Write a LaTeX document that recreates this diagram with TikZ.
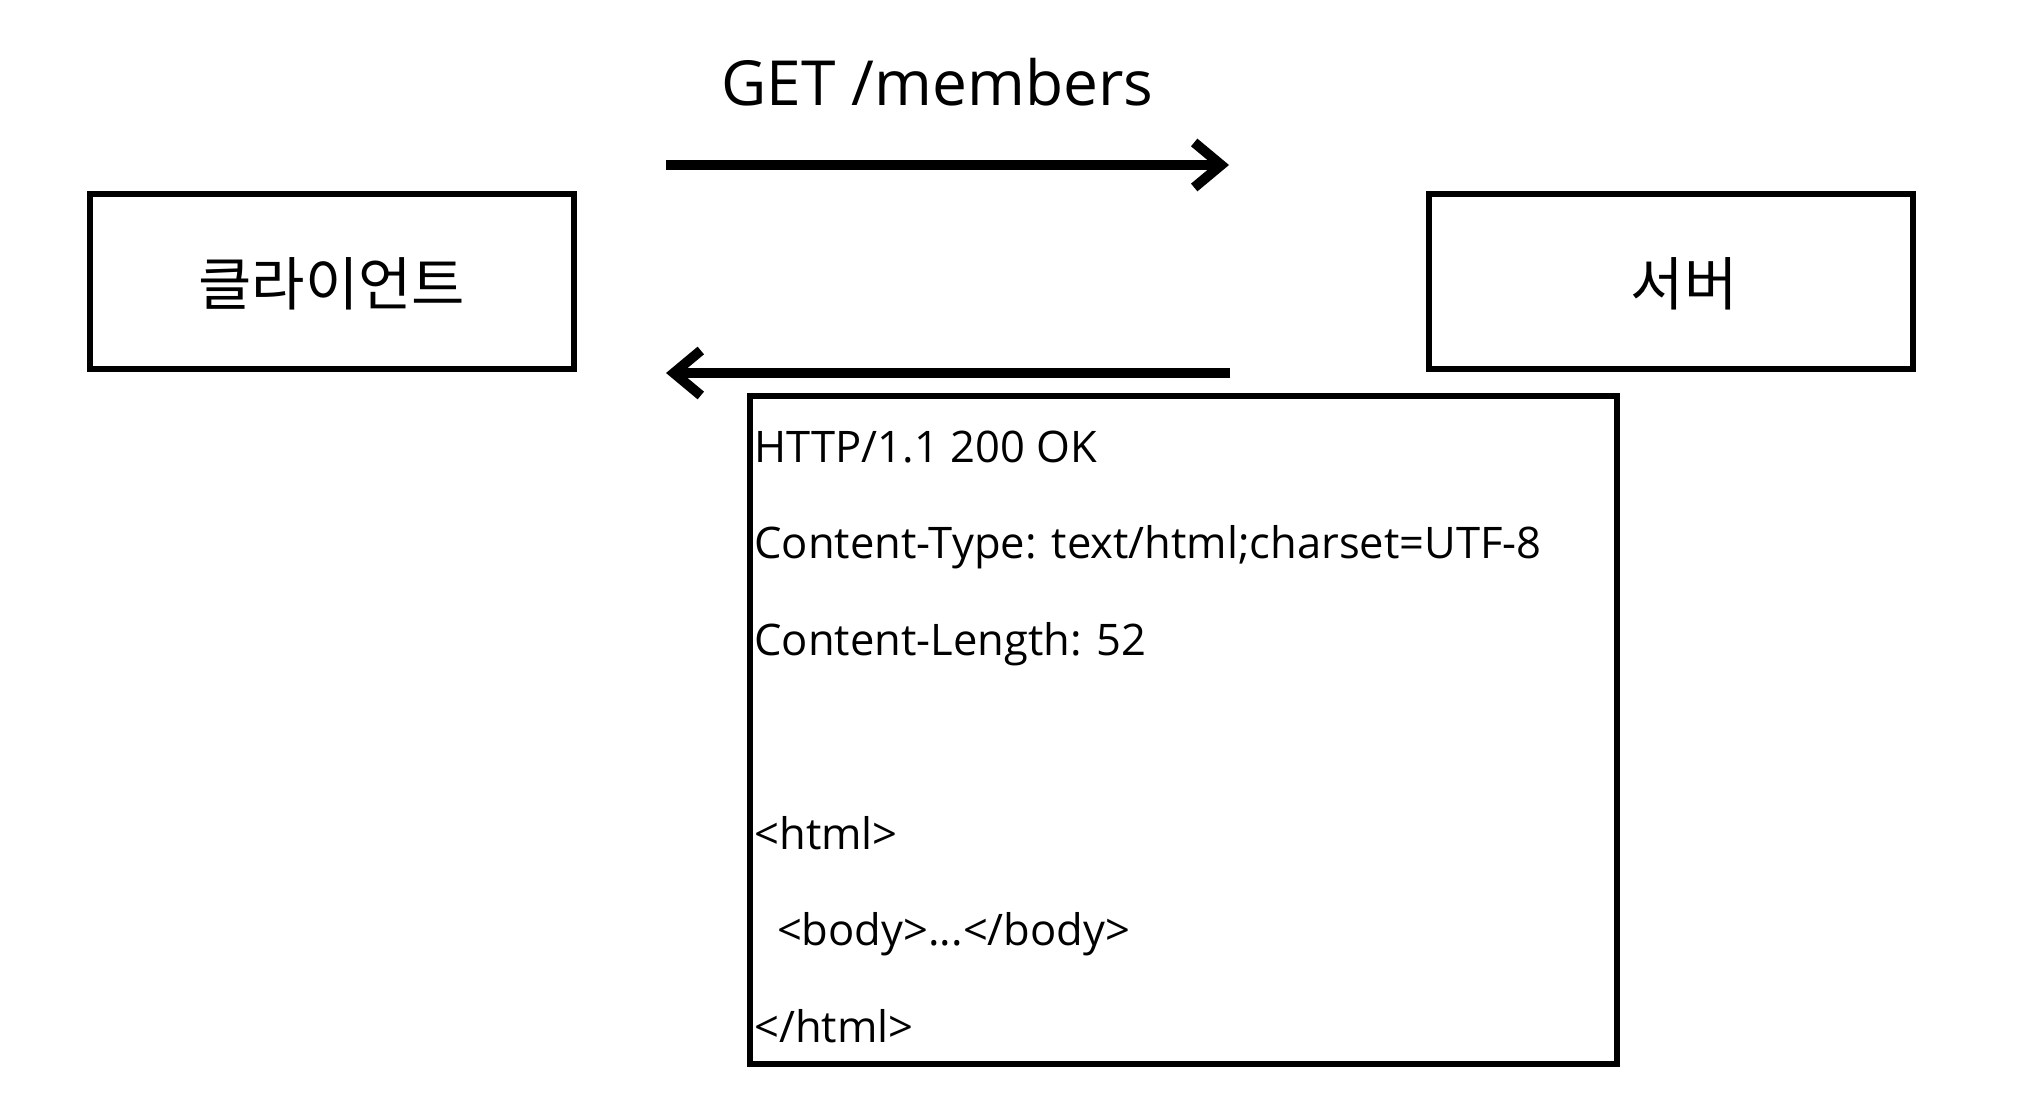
\documentclass[tikz,border=0pt]{standalone}
\usepackage{fontspec}
\setmainfont{Open Sans}
\newfontfamily\krfont{Noto Sans CJK KR}
\usetikzlibrary{arrows.meta}
\begin{document}
\begin{tikzpicture}[x=0.5pt,y=-0.5pt,
  peer/.style={draw, line width=3pt, minimum width=242pt, minimum height=87.35pt, inner sep=0pt},
  msgbox/.style={draw, line width=3pt, minimum width=433.35pt, minimum height=333.85pt, inner sep=0pt},
  krlabel/.style={anchor=base, inner sep=0pt, font=\krfont\fontsize{29pt}{34pt}\selectfont},
  msgline/.style={anchor=base west, inner sep=0pt, font=\fontsize{21.75pt}{26pt}\selectfont},
  flow/.style={line width=5pt, -{Straight Barb[length=13.5pt, width=22.5pt, line width=5pt]}}]
\useasboundingbox (0,0) rectangle (2034,1106);
\node[peer] (client) at (331.7,281.35) {};
\node[peer] (server) at (1670.7,281.35) {};
\node[krlabel] (clientlbl) at (331.7,306) {클라이언트};
\node[krlabel] (serverlbl) at (1684,306) {서버};
\node[msgbox] (resp) at (1183.65,729.65) {};
\coordinate (reqA) at (666,165);
\coordinate (reqB) at (1229,165);
\coordinate (resA) at (1230.4,373);
\coordinate (resB) at (666,373);
\draw[flow] (reqA) -- (reqB);
\draw[flow] (resA) -- (resB);
\node[anchor=base, inner sep=0pt, font=\fontsize{31.1pt}{36pt}\selectfont] (get) at (937.5,105.7) {GET /members};
\node[msgline] (l1) at (754,462.3) {HTTP/1.1 200 OK};
\node[msgline] (l2) at (754,559.0) {Content-Type: text/html;charset=UTF-8};
\node[msgline] (l3) at (754,655.7) {Content-Length: 52};
\node[msgline] (l5) at (754,849.2) {<html>};
\node[msgline] (l6) at (754,945.9) {\ \ <body>...</body>};
\node[msgline] (l7) at (754,1042.7) {</html>};
\end{tikzpicture}
\end{document}
